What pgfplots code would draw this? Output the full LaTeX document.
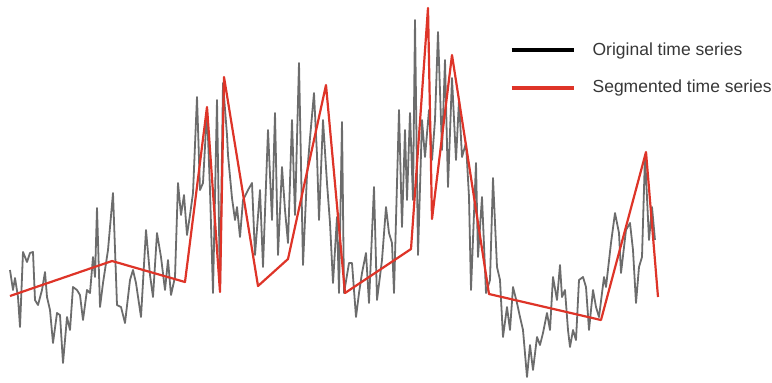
\documentclass[border=0pt]{standalone}
\usepackage{pgfplots}
\pgfplotsset{compat=1.18}
\usepackage{fontspec}
\setmainfont{Liberation Sans}
\definecolor{seggray}{RGB}{108,108,108}
\definecolor{segred}{RGB}{222,52,40}
\definecolor{txtgray}{RGB}{55,55,55}
\begin{document}
\begin{tikzpicture}
\begin{axis}[
  scale only axis, width=386pt, height=191pt,
  xmin=0, xmax=772, ymin=0, ymax=382, y dir=reverse,
  hide axis, clip=false,
  legend cell align=left,
  legend style={at={(axis cs:503,34)}, anchor=north west, draw=none, fill=none,
    font=\fontsize{8.75}{10}\selectfont\color{txtgray}, row sep=7pt},
  legend image code/.code={\draw[#1,line width=2.2pt] (0pt,0pt) -- (31pt,0pt);
    \path[draw=none,fill=none] (0pt,0pt) -- (38.5pt,0pt);},
]
\addlegendimage{black}
\addlegendentry{Original time series}
\addlegendimage{segred}
\addlegendentry{Segmented time series}
\addplot[seggray, line width=0.9pt, line join=round, forget plot] coordinates {
(10,270) (13,290) (15,278) (18,297) (20,327) (23,252) (27,262) (30,253) (33,252) (35,300)
(38,305) (42,290) (45,272) (47,297) (50,310) (53,343) (57,313) (60,315) (63,363) (67,317)
(70,330) (73,287) (77,290) (80,295) (83,320) (87,290) (90,293) (93,257) (95,277) (97,208)
(100,307) (103,283) (108,250) (113,193) (117,305) (121,307) (125,323) (130,280) (133,270) (136,283)
(141,317) (146,230) (150,275) (153,297) (157,233) (161,257) (165,290) (168,260) (171,295) (175,277)
(178,183) (181,215) (184,195) (187,235) (190,215) (193,193) (197,97) (200,190) (203,183) (207,110)
(210,190) (213,293) (217,100) (220,290) (223,83) (227,135) (228,155) (232,198) (235,220) (237,207)
(240,237) (243,200) (248,190) (252,183) (255,255) (260,190) (263,267) (268,130) (272,220) (275,113)
(278,255) (282,167) (285,210) (288,243) (292,120) (295,215) (299,63) (303,265) (307,175) (310,138)
(314,93) (317,155) (319,220) (323,120) (327,183) (330,223) (333,283) (337,217) (339,293) (342,122)
(344,293) (349,263) (352,263) (356,317) (359,293) (362,273) (366,253) (369,303) (374,187) (377,300)
(382,260) (386,207) (389,233) (392,243) (394,293) (399,110) (402,227) (405,130) (407,200) (410,113)
(413,200) (415,20) (418,255) (422,120) (425,157) (429,110) (432,160) (435,120) (438,32) (442,150)
(445,60) (448,187) (452,78) (456,160) (459,100) (462,157) (466,143) (469,197) (471,290) (476,163)
(478,257) (482,197) (486,293) (490,280) (493,178) (497,267) (500,280) (503,337) (507,307) (510,330)
(513,287) (517,303) (520,317) (523,330) (527,377) (530,345) (533,370) (537,337) (540,345) (543,333)
(547,313) (550,330) (553,277) (557,300) (560,265) (562,297) (565,290) (568,330) (570,347) (573,330)
(576,340) (579,280) (583,277) (586,287) (589,330) (593,290) (596,307) (599,317) (604,277) (606,287)
(611,243) (615,213) (619,233) (621,273) (626,230) (630,223) (633,250) (636,303) (639,267) (642,257)
(645,155) (649,240) (652,207) (655,240)
};
\addplot[segred, line width=1.1pt, line join=round, forget plot] coordinates {
(10,296) (112,261) (185,282) (207,107) (220,292) (224,77) (258,286) (288,259) (326,85) (345,293)
(411,249) (428,8) (432,219) (452,55) (489,294) (601,320) (646,152) (658,297)
};
\end{axis}
\pgfresetboundingbox
\path[use as bounding box] (current axis.south west) rectangle (current axis.north east);
\end{tikzpicture}
\end{document}
